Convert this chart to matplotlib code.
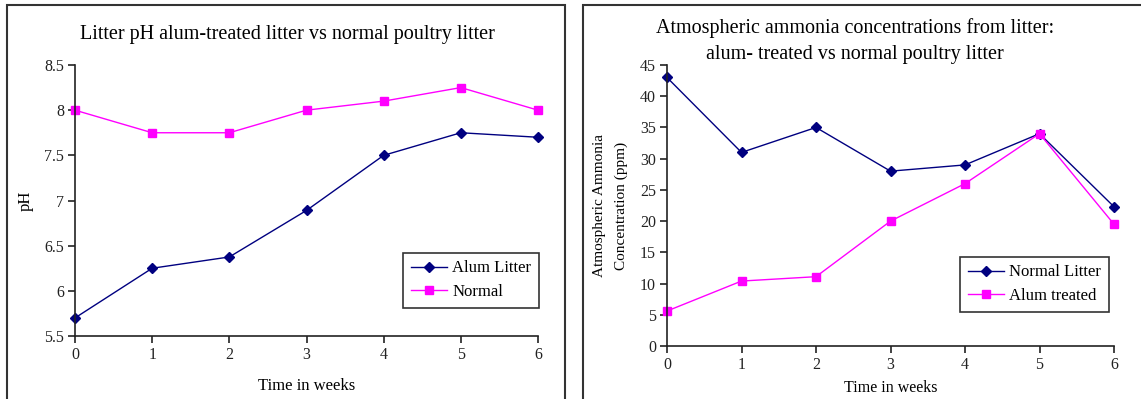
import matplotlib
matplotlib.use("Agg")
import matplotlib.pyplot as plt
from matplotlib.patches import Rectangle

weeks = [0, 1, 2, 3, 4, 5, 6]
ph_alum = [5.7, 6.25, 6.375, 6.89, 7.5, 7.75, 7.7]
ph_normal = [8.0, 7.75, 7.75, 8.0, 8.1, 8.25, 8.0]
nh3_normal = [43, 31, 35, 28, 29, 34, 22.3]
nh3_alum = [5.6, 10.4, 11.1, 20, 26, 34, 19.5]
ph_ticks = [5.5, 6, 6.5, 7, 7.5, 8, 8.5]
ph_ticklabels = ["5.5", "6", "6.5", "7", "7.5", "8", "8.5"]
nh3_ticks = [0, 5, 10, 15, 20, 25, 30, 35, 40, 45]

NAVY = "#000080"
MAG = "#FF00FF"
plt.rcParams['font.family'] = ['Liberation Serif', 'DejaVu Serif']

W, H = 1141, 399
fig = plt.figure(figsize=(W / 100, H / 100), dpi=100)

def fx(px):
    return px / W

def fy(py):
    return 1 - py / H

# panel frames
fig.patches.append(Rectangle((fx(7), fy(420)), fx(565 - 7), fy(5) - fy(420),
                             transform=fig.transFigure, fill=False,
                             edgecolor="#333333", linewidth=1.5))
fig.patches.append(Rectangle((fx(583), fy(420)), fx(1200 - 583), fy(5) - fy(420),
                             transform=fig.transFigure, fill=False,
                             edgecolor="#333333", linewidth=1.5))

def style(ax):
    for s in ("top", "right"):
        ax.spines[s].set_visible(False)
    for s in ("left", "bottom"):
        ax.spines[s].set_linewidth(1.2)
        ax.spines[s].set_color("#222222")
    ax.tick_params(direction="out", length=5, width=1.2, labelsize=11.5, colors="#222222",
                   labelcolor="#222222", pad=3)
    ax.set_xticks(weeks)
    ax.set_xlim(0, 6)

# left panel
ax1 = fig.add_axes([fx(75), fy(336), fx(538 - 75), fy(65) - fy(336)])
style(ax1)
ax1.plot(weeks, ph_alum, color=NAVY, marker="D", markersize=5, linewidth=1, label="Alum Litter", clip_on=False)
ax1.plot(weeks, ph_normal, color=MAG, marker="s", markersize=6, linewidth=1, label="Normal", clip_on=False)
ax1.set_ylim(5.5, 8.5)
ax1.set_yticks(ph_ticks)
ax1.set_yticklabels(ph_ticklabels)
ax1.set_xlabel("Time in weeks", fontsize=12, labelpad=11)
ax1.set_ylabel("pH", fontsize=12)
ax1.yaxis.set_label_coords((34 - 75) / (538 - 75), 0.5)
fig.text(fx(287), fy(34), "Litter pH alum-treated litter vs normal poultry litter",
         ha="center", va="center", fontsize=14.5)
leg1 = ax1.legend(loc="upper left", bbox_to_anchor=(fx(403), fy(253)), bbox_transform=fig.transFigure,
                  frameon=True, fancybox=False, edgecolor="black", fontsize=12, borderaxespad=0,
                  handlelength=2.2, handletextpad=0.3, borderpad=0.45, labelspacing=0.45)
leg1.get_frame().set_linewidth(1.2)

# right panel
ax2 = fig.add_axes([fx(667), fy(346), fx(1114 - 667), fy(65) - fy(346)])
style(ax2)
ax2.plot(weeks, nh3_normal, color=NAVY, marker="D", markersize=5, linewidth=1, label="Normal Litter", clip_on=False)
ax2.plot(weeks, nh3_alum, color=MAG, marker="s", markersize=6, linewidth=1, label="Alum treated", clip_on=False)
ax2.set_ylim(0, 45)
ax2.set_yticks(nh3_ticks)
ax2.set_xlabel("Time in weeks", fontsize=11.5, labelpad=5)
ax2.set_ylabel("Atmospheric Ammonia\nConcentration (ppm)", fontsize=11, linespacing=1.8)
ax2.yaxis.set_label_coords((628 - 667) / (1114 - 667), 0.5)
fig.text(fx(855), fy(41), "Atmospheric ammonia concentrations from litter:\nalum- treated vs normal poultry litter",
         ha="center", va="center", fontsize=14.5, linespacing=1.45)
leg2 = ax2.legend(loc="upper left", bbox_to_anchor=(fx(960), fy(257)), bbox_transform=fig.transFigure,
                  frameon=True, fancybox=False, edgecolor="black", fontsize=12, borderaxespad=0,
                  handlelength=2.2, handletextpad=0.3, borderpad=0.45, labelspacing=0.45)
leg2.get_frame().set_linewidth(1.2)

fig.savefig("out.png", dpi=100)
